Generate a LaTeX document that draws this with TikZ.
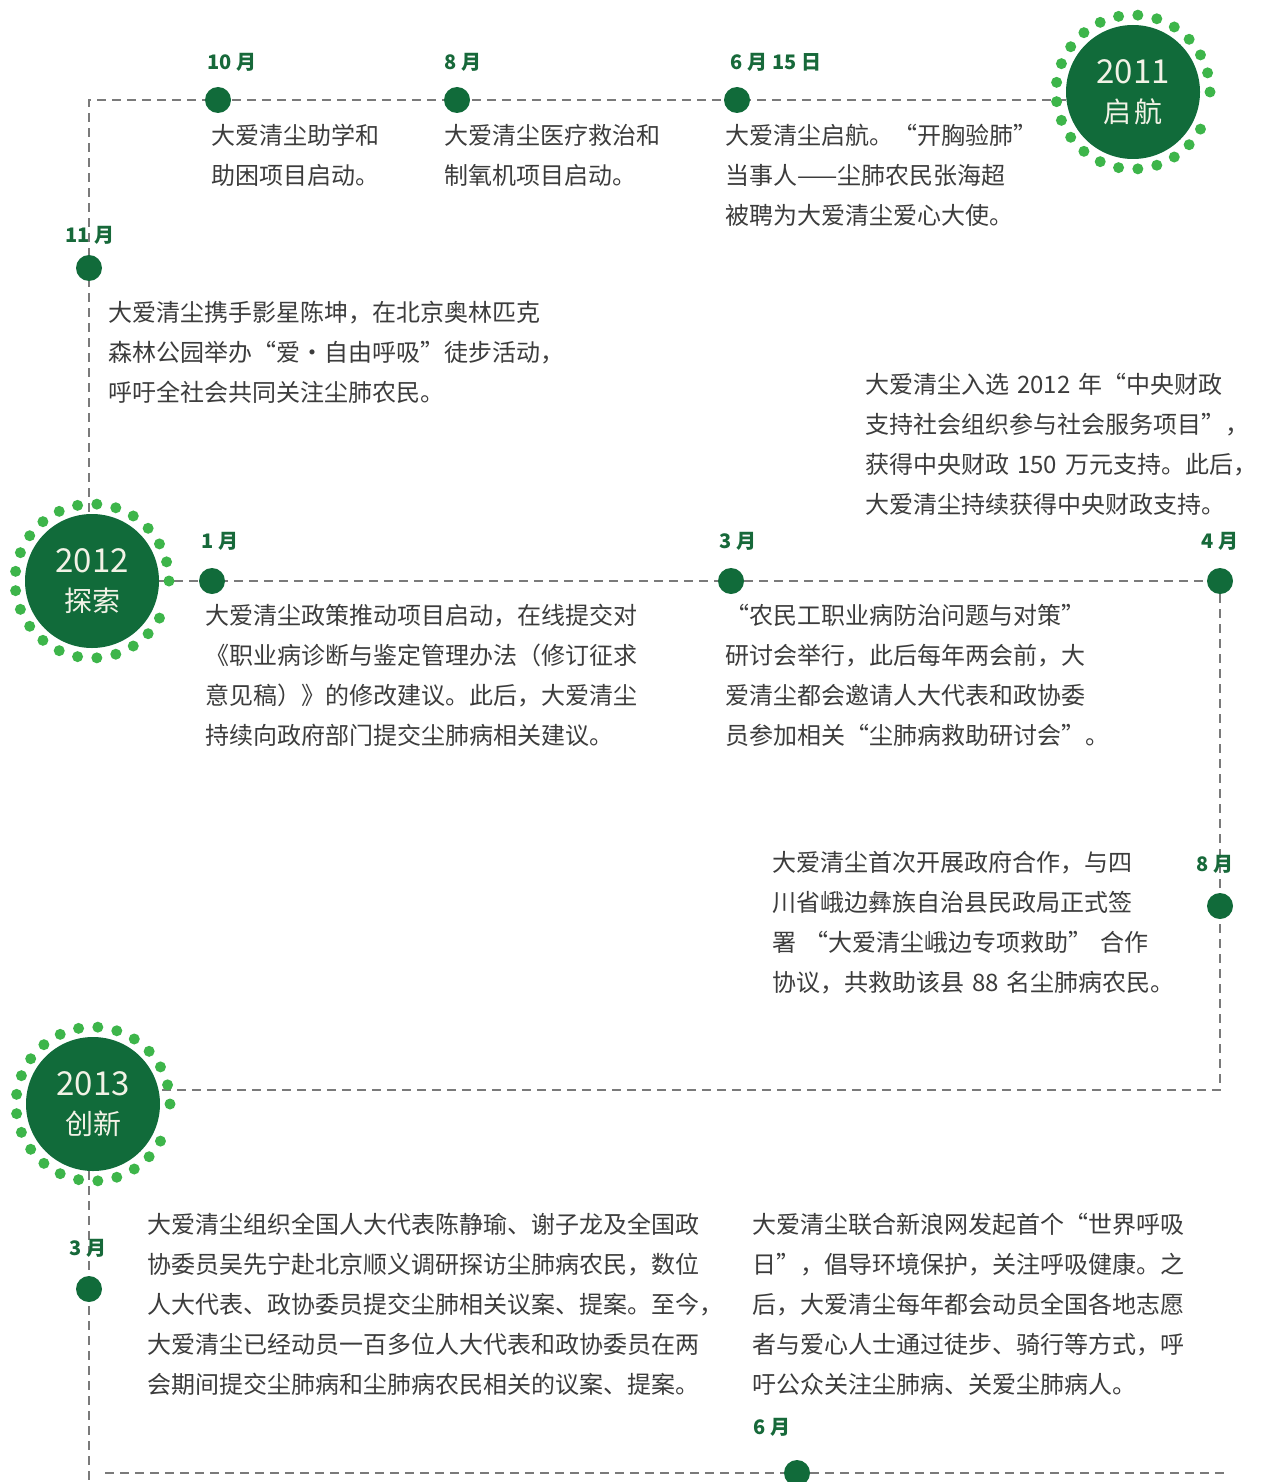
\documentclass[tikz,border=0pt]{standalone}
\usepackage{fontspec}
\setmainfont{Noto Sans CJK SC}
\usetikzlibrary{backgrounds}
\definecolor{dkgreen}{HTML}{116B3A}
\definecolor{ltgreen}{HTML}{3DB54A}
\definecolor{linegray}{HTML}{7A7A7A}
\definecolor{txtgray}{HTML}{3C3C3C}
\definecolor{mongreen}{HTML}{17693A}
\definecolor{badgetext}{HTML}{F2F2E6}
\begin{document}
\begin{tikzpicture}[x=1pt,y=-1pt,
  txt/.style={anchor=base west, inner sep=0pt, text width=700pt, align=left, text=txtgray, font=\fontsize{24}{40}\selectfont},
  mon/.style={inner sep=0pt, text=mongreen, font=\fontsize{20}{24}\selectfont\bfseries},
  evdot/.style={circle, fill=dkgreen, minimum size=26pt, inner sep=0pt},
  yearbadge/.style={circle, fill=dkgreen, minimum size=134pt, inner sep=0pt, text=badgetext, align=center, font=\fontsize{30}{39}\selectfont},
  ringdot/.style={fill=ltgreen},
  tline/.style={draw=linegray, line width=2pt, dash pattern=on 9pt off 6pt}
]
\useasboundingbox (0,0) rectangle (1283,1482);

% year badges
\node[yearbadge] (b2011) at (1133,92) {{\fontsize{33}{39}\selectfont 2011}\\{\fontsize{28}{39}\selectfont 启\hspace{4pt}航}};
\node[yearbadge] (b2012) at (92,581) {{\fontsize{33}{39}\selectfont 2012}\\{\fontsize{28}{39}\selectfont 探索}};
\node[yearbadge] (b2013) at (93,1104) {{\fontsize{33}{39}\selectfont 2013}\\{\fontsize{28}{39}\selectfont 创新}};
\foreach \b in {b2011,b2012,b2013}{
  \foreach \a in {0,14.4,...,345}{
    \fill[ringdot] (\b.center) ++(\a:77pt) circle[radius=5.5pt];
  }
}

% event dots
\node[evdot] (d10) at (218,100) {};
\node[evdot] (d8a) at (457,100) {};
\node[evdot] (d615) at (737,100) {};
\node[evdot] (d11) at (89,268) {};
\node[evdot] (d1) at (212,581) {};
\node[evdot] (d3a) at (731,581) {};
\node[evdot] (d4) at (1220,581) {};
\node[evdot] (d8b) at (1220,906) {};
\node[evdot] (d3b) at (89,1289) {};
\node[evdot] (d6) at (797,1473) {};

% corner coordinates
\coordinate (ctl) at (89,100);
\coordinate (cbr) at (1220,1090);
\coordinate (cbl) at (89,1480);
\coordinate (cb1) at (105,1473);
\coordinate (cb2) at (1225,1473);

\begin{pgfonlayer}{background}
\draw[tline] (ctl -| b2011.west) -- (ctl) -- (ctl |- b2012.north);
\draw[tline] (b2012.east) -- (d4) -- (cbr) -- (cbr -| b2013.east);
\draw[tline] (cbl |- b2013.south) -- (cbl);
\draw[tline] (cb1) -- (cb2);
\end{pgfonlayer}

% month labels
\node[mon] (m10) at (232,62) {10 月};
\node[mon] (m8a) at (463,62) {8 月};
\node[mon] (m615) at (776,62) {6 月 15 日};
\node[mon] (m11) at (90,235) {11 月};
\node[mon] (m1) at (220,541) {1 月};
\node[mon] (m3a) at (738,541) {3 月};
\node[mon] (m4) at (1220,541) {4 月};
\node[mon] (m8b) at (1215,864) {8 月};
\node[mon] (m3b) at (88,1248) {3 月};
\node[mon] (m6) at (772,1427) {6 月};

% texts
\node[txt] (t1) at (211,145) {大爱清尘助学和\\助困项目启动。};
\node[txt] (t2) at (444,145) {大爱清尘医疗救治和\\制氧机项目启动。};
\node[txt] (t3) at (725,145) {大爱清尘启航。“开胸验肺”\\当事人——尘肺农民张海超\\被聘为大爱清尘爱心大使。};
\node[txt] (t4) at (108,321) {大爱清尘携手影星陈坤，在北京奥林匹克\\森林公园举办“爱•自由呼吸”徒步活动，\\呼吁全社会共同关注尘肺农民。};
\node[txt] (t5) at (865,393) {大爱清尘入选 2012 年“中央财政\\支持社会组织参与社会服务项目”，\\获得中央财政 150 万元支持。此后，\\大爱清尘持续获得中央财政支持。};
\node[txt] (t6) at (205,624) {大爱清尘政策推动项目启动，在线提交对\\《职业病诊断与鉴定管理办法（修订征求\\意见稿）》的修改建议。此后，大爱清尘\\持续向政府部门提交尘肺病相关建议。};
\node[txt] (t7) at (725,624) {“农民工职业病防治问题与对策”\\研讨会举行，此后每年两会前，大\\爱清尘都会邀请人大代表和政协委\\员参加相关“尘肺病救助研讨会”。};
\node[txt] (t8) at (772,871) {大爱清尘首次开展政府合作，与四\\川省峨边彝族自治县民政局正式签\\署 “大爱清尘峨边专项救助” 合作\\协议，共救助该县 88 名尘肺病农民。};
\node[txt] (t9) at (147,1233) {大爱清尘组织全国人大代表陈静瑜、谢子龙及全国政\\协委员吴先宁赴北京顺义调研探访尘肺病农民，数位\\人大代表、政协委员提交尘肺相关议案、提案。至今，\\大爱清尘已经动员一百多位人大代表和政协委员在两\\会期间提交尘肺病和尘肺病农民相关的议案、提案。};
\node[txt] (t10) at (752,1233) {大爱清尘联合新浪网发起首个“世界呼吸\\日”，倡导环境保护，关注呼吸健康。之\\后，大爱清尘每年都会动员全国各地志愿\\者与爱心人士通过徒步、骑行等方式，呼\\吁公众关注尘肺病、关爱尘肺病人。};
\end{tikzpicture}
\end{document}
